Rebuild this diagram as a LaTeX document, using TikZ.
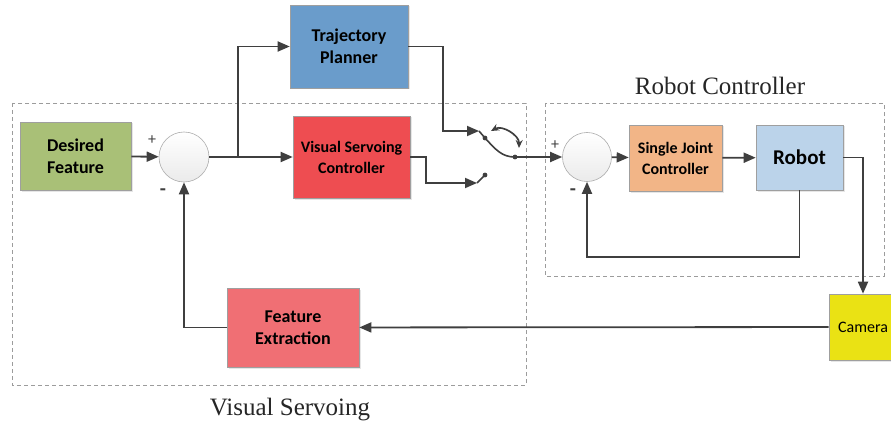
\documentclass[tikz,border=0pt]{standalone}
\usepackage{fontspec}
\setmainfont{Liberation Serif}
\newfontfamily\boxfont{Carlito}
\usetikzlibrary{calc,arrows.meta,positioning,shadows}
\definecolor{wire}{HTML}{3F3F3F}
\definecolor{frame}{HTML}{9C9C9C}
\definecolor{desired}{HTML}{A9C077}
\definecolor{planner}{HTML}{6A9CCB}
\definecolor{vscred}{HTML}{EE4D51}
\definecolor{extract}{HTML}{F06F74}
\definecolor{joint}{HTML}{F2B587}
\definecolor{robotblue}{HTML}{BBD3EA}
\definecolor{camyellow}{HTML}{EAE214}
\tikzset{
  block/.style={draw=gray!75, line width=0.6pt, align=center, inner sep=0pt,
    drop shadow={shadow xshift=1.5pt, shadow yshift=-1.5pt, opacity=0.2}},
  lbl/.style n args={2}{font=\boxfont\bfseries\fontsize{#1}{#2}\selectfont},
  summer/.style={circle, draw=gray!65, line width=0.6pt, minimum size=50pt,
    inner sep=0pt, top color=white, bottom color=gray!16},
  flow/.style={-{Triangle[length=12pt,width=10pt]}, draw=wire, line width=1.8pt},
  wireline/.style={draw=wire, line width=1.6pt},
  contact/.style={circle, fill=wire, inner sep=1.7pt},
  groupframe/.style={draw=frame, line width=0.7pt, dash pattern=on 4pt off 3pt},
  plus/.style={font=\boxfont\fontsize{16}{16}\selectfont, text=wire},
  minus/.style={font=\boxfont\bfseries\fontsize{20}{20}\selectfont, text=wire},
  title/.style={font=\fontsize{25}{25}\selectfont, text=black!85}
}
\begin{document}
\begin{tikzpicture}[x=1pt,y=-1pt]
  \useasboundingbox (0,0) rectangle (891,425);

  % dashed groups
  \draw[groupframe] (12,103) rectangle (526,385);
  \draw[groupframe] (545,103) rectangle (884,276);
  \node[title] (vstitle) at (290,410) {Visual Servoing};
  \node[title] (rctitle) at (720,86) {Robot Controller};

  % blocks
  \node[block, fill=desired, minimum width=111pt, minimum height=68pt, lbl={18}{22}] (df) at (75.5,156) {Desired\\Feature};
  \node[summer] (s1) at (184,157) {};
  \node[block, fill=planner, minimum width=118pt, minimum height=83pt, lbl={18}{22}] (tp) at (349,46.5) {Trajectory\\Planner};
  \node[block, fill=vscred, minimum width=117pt, minimum height=82pt, lbl={16}{21}] (vsc) at (351.5,157) {Visual Servoing\\Controller};
  \node[block, fill=extract, minimum width=132pt, minimum height=79pt, lbl={18}{22}] (fe) at (293,327.5) {Feature\\Extraction};
  \node[summer, minimum size=49pt] (s2) at (587,157) {};
  \node[block, fill=joint, minimum width=93pt, minimum height=66pt, lbl={16}{21}] (sjc) at (675.5,158) {Single Joint\\Controller};
  \node[block, fill=robotblue, minimum width=87pt, minimum height=65pt, lbl={21}{24}] (robot) at (799.5,157.5) {Robot};
  \node[block, fill=camyellow, minimum width=68pt, minimum height=66pt,
    font=\boxfont\fontsize{16}{19}\selectfont] (cam) at (863,327) {Camera};

  % signs at the summing junctions
  \node[plus] (p1) at (152,140) {+};
  \node[minus] (m1) at (163,192) {-};
  \node[plus] (p2) at (555,145) {+};
  \node[minus] (m2) at (573,192) {-};

  % switch
  \coordinate (ka) at (479,131);
  \coordinate (kb) at (477,183);
  \node[contact] (ca) at (485,138) {};
  \node[contact] (cb) at (485,175) {};
  \node[contact] (pivot) at (515,157) {};
  \draw[wireline] (ka) -- (ca.center);
  \draw[wireline] (kb) -- (cb.center);
  \draw[wireline] (ca.center) .. controls (496,150) and (502,157) .. (pivot.center);
  \draw[draw=wire, line width=1.7pt, {Stealth[length=8pt,width=7pt]}-{Stealth[length=8pt,width=7pt]}]
    (491,131) to[bend left=60] (519,148);

  % forward path
  \draw[flow] (df) -- (s1);
  \draw[flow] (s1) -- (vsc);
  \coordinate (br) at (238,157);
  \draw[flow] (br) |- (tp);
  \draw[flow] (tp.east) -| (443,131) -- (ka);
  \draw[flow] (vsc.east) -| (426,183) -- (kb);
  \draw[flow] (pivot.center) -- (s2);
  \draw[flow] (s2) -- (sjc);
  \draw[flow] (sjc) -- (robot);

  % feedback paths
  \draw[flow] (robot.south) -- ++(0,67) -| (s2.south);
  \draw[flow] (robot.east) -| (cam.north);
  \draw[flow] (cam) -- (fe);
  \draw[flow] (fe.west) -| (s1.south);
\end{tikzpicture}
\end{document}
